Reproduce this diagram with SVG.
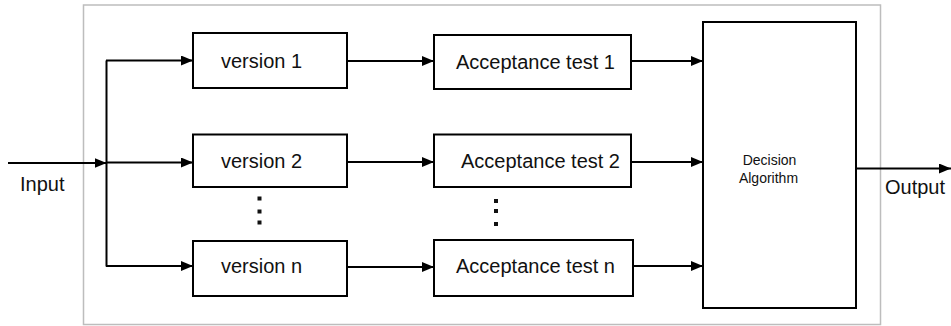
<svg xmlns="http://www.w3.org/2000/svg" width="951" height="326" viewBox="0 0 951 326">
<defs>
<marker id="ah" markerWidth="12" markerHeight="10" refX="12" refY="5" orient="auto" markerUnits="userSpaceOnUse">
<path d="M0,0 L12,5 L0,10 Z" fill="#000"/>
</marker>
<style>
.box{fill:#fff;stroke:#000;stroke-width:2}
.lbl{font-family:"Liberation Sans",Arial,sans-serif;font-size:20px;fill:#111}
.small{font-family:"Liberation Sans",Arial,sans-serif;font-size:14px;fill:#111}
.ln{fill:none;stroke:#000;stroke-width:2}
.dot{fill:#111}
</style>
</defs>
<rect width="951" height="326" fill="#fff"/>
<rect id="frame" x="83.5" y="5" width="797" height="319.5" fill="none" stroke="#bdbdbd" stroke-width="1.5"/>
<g id="connectors">
<line class="ln" x1="8" y1="163" x2="106.5" y2="163" marker-end="url(#ah)"/>
<line class="ln" x1="106.5" y1="60.5" x2="106.5" y2="266.5"/>
<line class="ln" x1="106" y1="60.5" x2="193" y2="60.5" marker-end="url(#ah)"/>
<line class="ln" x1="106" y1="162.5" x2="193" y2="162.5" marker-end="url(#ah)"/>
<line class="ln" x1="106" y1="266" x2="193" y2="266" marker-end="url(#ah)"/>
<line class="ln" x1="347" y1="61" x2="434" y2="61" marker-end="url(#ah)"/>
<line class="ln" x1="347" y1="162" x2="434" y2="162" marker-end="url(#ah)"/>
<line class="ln" x1="347" y1="267" x2="434" y2="267" marker-end="url(#ah)"/>
<line class="ln" x1="631" y1="61" x2="703" y2="61" marker-end="url(#ah)"/>
<line class="ln" x1="631" y1="162" x2="703" y2="162" marker-end="url(#ah)"/>
<line class="ln" x1="633" y1="266" x2="703" y2="266" marker-end="url(#ah)"/>
<line class="ln" x1="856" y1="168.5" x2="951" y2="168.5" marker-end="url(#ah)"/>
</g>
<g id="version1"><rect class="box" x="193" y="33" width="154" height="55"/><text class="lbl" x="221" y="68">version 1</text></g>
<g id="version2"><rect class="box" x="193" y="134.5" width="154" height="52.5"/><text class="lbl" x="221" y="168">version 2</text></g>
<g id="versionn"><rect class="box" x="193" y="241" width="154" height="55"/><text class="lbl" x="221" y="273">version n</text></g>
<g id="dots1"><rect class="dot" x="257.5" y="196.5" width="4" height="4"/><rect class="dot" x="257.5" y="209.5" width="4" height="4"/><rect class="dot" x="257.5" y="220.5" width="4" height="4"/></g>
<g id="test1"><rect class="box" x="434" y="35" width="197" height="54"/><text class="lbl" x="456" y="69">Acceptance test 1</text></g>
<g id="test2"><rect class="box" x="434" y="134.5" width="197" height="52.5"/><text class="lbl" x="461" y="168">Acceptance test 2</text></g>
<g id="testn"><rect class="box" x="434" y="240" width="199" height="56"/><text class="lbl" x="456" y="273">Acceptance test n</text></g>
<g id="dots2"><rect class="dot" x="494" y="199" width="4" height="4"/><rect class="dot" x="494" y="209" width="4" height="4"/><rect class="dot" x="494" y="222" width="4" height="4"/></g>
<g id="decision"><rect class="box" x="703" y="22" width="153" height="286"/><text class="small" x="769.5" y="165" text-anchor="middle">Decision</text><text class="small" x="768.5" y="183" text-anchor="middle">Algorithm</text></g>
<g id="input"><text class="lbl" x="20" y="191">Input</text></g>
<g id="output"><text class="lbl" x="885" y="194">Output</text></g>
</svg>
